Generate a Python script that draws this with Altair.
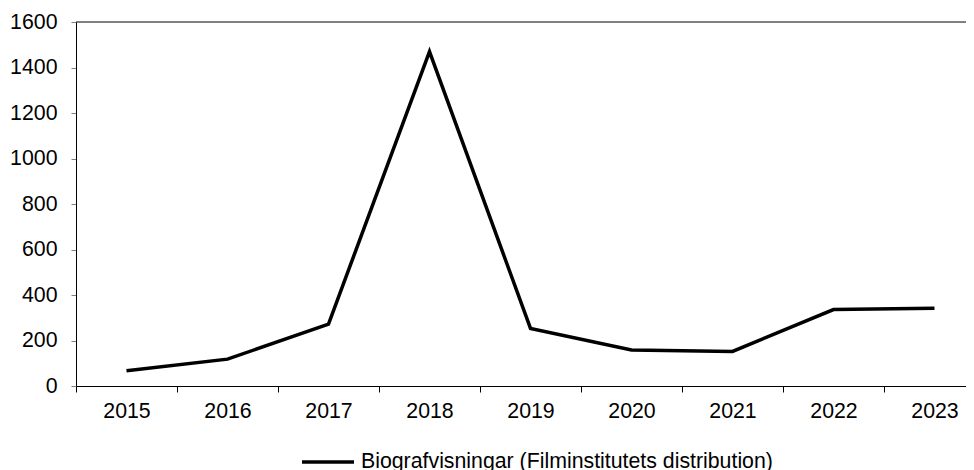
import altair as alt
import pandas as pd

years = ["2015", "2016", "2017", "2018", "2019", "2020", "2021", "2022", "2023"]
values = [67, 118, 272, 1470, 253, 158, 152, 336, 342]
series_name = "Biografvisningar (Filminstitutets distribution)"

df = pd.DataFrame({"year": years, "value": values, "series": [series_name] * len(years)})

FONT = "Liberation Sans"
FS = 21.3

y_scale = alt.Scale(domain=[0, 1600], nice=False)

line = alt.Chart(df).mark_line(strokeWidth=3.5, color="black", strokeJoin="miter").encode(
    x=alt.X(
        "year:O",
        bandPosition=0.5,
        scale=alt.Scale(type="band", paddingInner=0, paddingOuter=0, range=[0, 909]),
        axis=alt.Axis(
            title=None,
            labelAngle=0,
            tickBand="extent",
            tickSize=6,
            tickColor="black",
            domainColor="black",
            labelFontSize=FS,
            labelPadding=8,
            labelColor="black",
            labelFont=FONT,
            grid=False,
        ),
    ),
    y=alt.Y(
        "value:Q",
        scale=y_scale,
        axis=alt.Axis(
            title=None,
            values=[0, 200, 400, 600, 800, 1000, 1200, 1400, 1600],
            format="d",
            tickSize=5,
            tickColor="#808080",
            domainColor="black",
            labelFontSize=FS,
            labelPadding=14,
            labelColor="black",
            labelFont=FONT,
            grid=False,
        ),
    ),
    color=alt.Color(
        "series:N",
        scale=alt.Scale(domain=[series_name], range=["black"]),
        legend=alt.Legend(
            title=None,
            orient="none",
            legendX=224,
            legendY=412,
            symbolType="stroke",
            symbolSize=2704,
            symbolStrokeWidth=3.5,
            labelFontSize=FS,
            labelFont=FONT,
            labelColor="black",
            labelOffset=5,
            labelLimit=0,
        ),
    ),
)

top_border = alt.Chart(pd.DataFrame({"top": [1600]})).mark_rule(color="black", strokeWidth=1).encode(
    y=alt.Y("top:Q", scale=y_scale)
)

chart = alt.layer(line, top_border).properties(
    width=890,
    height=364,
    autosize=alt.AutoSizeParams(type="none"),
    padding={"left": 68, "top": 14, "right": 0, "bottom": 84},
).configure_view(
    stroke=None
)

chart.save("out.html", embed_options={"renderer": "svg", "actions": False})
